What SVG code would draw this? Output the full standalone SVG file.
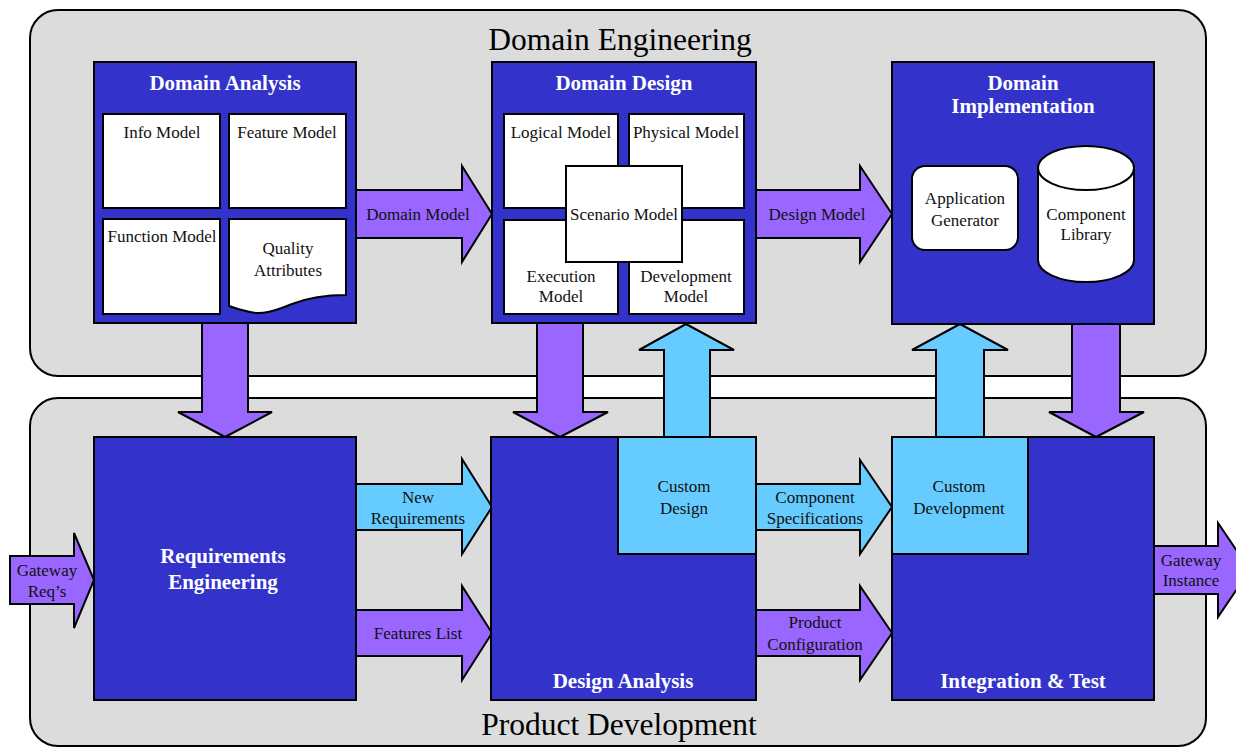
<svg xmlns="http://www.w3.org/2000/svg" width="1236" height="749" viewBox="0 0 1236 749">
  <style>
    .zone { fill: #DCDCDC; stroke: #000; stroke-width: 2; }
    .box { fill: #3333CC; stroke: #000; stroke-width: 2; }
    .card { fill: #FFFFFF; stroke: #000; stroke-width: 2; }
    .custom { fill: #66CCFF; stroke: #000; stroke-width: 2; }
    .arrow-p { fill: #9966FF; stroke: #000; stroke-width: 2; stroke-linejoin: miter; }
    .arrow-b { fill: #66CCFF; stroke: #000; stroke-width: 2; stroke-linejoin: miter; }
    text { font-family: "Liberation Serif", "Times New Roman", serif; text-anchor: middle; }
    .zone-title { font-size: 31.5px; fill: #000; }
    .title { font-size: 21px; font-weight: bold; fill: #FFFFFF; }
    .label { font-size: 17px; fill: #111; }
  </style>

  <rect width="1236" height="749" fill="#FFFFFF"/>

  <!-- swim-lane containers -->
  <g id="domain-engineering">
    <rect class="zone" x="30" y="10" width="1176" height="366" rx="28" ry="28"/>
    <text class="zone-title" x="620" y="50">Domain Engineering</text>
  </g>
  <g id="product-development">
    <rect class="zone" x="30" y="398" width="1176" height="348" rx="28" ry="28"/>
    <text class="zone-title" x="619" y="735">Product Development</text>
  </g>

  <!-- connectors -->
  <g id="connectors">
    <!-- vertical flows between the lanes -->
    <path class="arrow-p" d="M202,323 H248 V412 H272 L225,437 L178,412 H202 Z"/>
    <path class="arrow-p" d="M537,323 H583 V412 H608 L560,437 L513,412 H537 Z"/>
    <path class="arrow-p" d="M1072,324 H1120 V412 H1144 L1096,437 L1049,412 H1072 Z"/>
    <path class="arrow-b" d="M664,437 V350 H639 L686,324 L734,350 H710 V437 Z"/>
    <path class="arrow-b" d="M936,437 V350 H912 L960,324 L1008,350 H984 V437 Z"/>

    <!-- horizontal flows -->
    <g id="domain-model-flow">
      <path class="arrow-p" d="M356,190 H462 V166 L492,214 L462,262 V238 H356 Z"/>
      <text class="label" x="418" y="220">Domain Model</text>
    </g>
    <g id="design-model-flow">
      <path class="arrow-p" d="M756,190 H860 V166 L892,214 L860,262 V238 H756 Z"/>
      <text class="label" x="817" y="220">Design Model</text>
    </g>
    <g id="new-requirements-flow">
      <path class="arrow-b" d="M356,484 H462 V459 L492,507 L462,554 V530 H356 Z"/>
      <text class="label" x="418" y="503">New</text>
      <text class="label" x="418" y="524">Requirements</text>
    </g>
    <g id="features-list-flow">
      <path class="arrow-p" d="M356,610 H462 V586 L492,633 L462,680 V656 H356 Z"/>
      <text class="label" x="418" y="639">Features List</text>
    </g>
    <g id="component-spec-flow">
      <path class="arrow-b" d="M756,484 H860 V460 L892,507 L860,554 V530 H756 Z"/>
      <text class="label" x="815" y="503">Component</text>
      <text class="label" x="815" y="524">Specifications</text>
    </g>
    <g id="product-config-flow">
      <path class="arrow-p" d="M756,610 H860 V586 L892,633 L860,680 V656 H756 Z"/>
      <text class="label" x="815" y="628">Product</text>
      <text class="label" x="815" y="650">Configuration</text>
    </g>
    <g id="gateway-reqs-flow">
      <path class="arrow-p" d="M10,556 H74 V533 L94,580 L74,628 V604 H10 Z"/>
      <text class="label" x="47" y="576">Gateway</text>
      <text class="label" x="47" y="597">Req’s</text>
    </g>
    <g id="gateway-instance-flow">
      <path class="arrow-p" d="M1154,546 H1218 V523 L1250,570 L1218,617 V594 H1154 Z"/>
      <text class="label" x="1191" y="566">Gateway</text>
      <text class="label" x="1191" y="586">Instance</text>
    </g>
  </g>

  <!-- Domain Analysis -->
  <g id="domain-analysis">
    <rect class="box" x="94" y="62" width="262" height="261"/>
    <text class="title" x="225" y="90">Domain Analysis</text>
    <rect class="card" x="103" y="114" width="117" height="94"/>
    <text class="label" x="162" y="138">Info Model</text>
    <rect class="card" x="229" y="114" width="117" height="94"/>
    <text class="label" x="287" y="138">Feature Model</text>
    <rect class="card" x="103" y="219" width="117" height="95"/>
    <text class="label" x="162" y="242">Function Model</text>
    <path class="card" d="M229,219 H346 V295 C326,295 310,297 292,304 C275,311 262,315 250,312 C240,310 234,308 229,306 Z"/>
    <text class="label" x="288" y="254">Quality</text>
    <text class="label" x="288" y="276">Attributes</text>
  </g>

  <!-- Domain Design -->
  <g id="domain-design">
    <rect class="box" x="492" y="62" width="264" height="261"/>
    <text class="title" x="624" y="90">Domain Design</text>
    <rect class="card" x="504" y="114" width="114" height="94"/>
    <text class="label" x="561" y="138">Logical Model</text>
    <rect class="card" x="629" y="114" width="115" height="94"/>
    <text class="label" x="686" y="138">Physical Model</text>
    <rect class="card" x="504" y="220" width="114" height="94"/>
    <text class="label" x="561" y="282">Execution</text>
    <text class="label" x="561" y="302">Model</text>
    <rect class="card" x="629" y="220" width="115" height="94"/>
    <text class="label" x="686" y="282">Development</text>
    <text class="label" x="686" y="302">Model</text>
    <rect class="card" x="566" y="166" width="116" height="96"/>
    <text class="label" x="624" y="220">Scenario Model</text>
  </g>

  <!-- Domain Implementation -->
  <g id="domain-implementation">
    <rect class="box" x="892" y="62" width="262" height="262"/>
    <text class="title" x="1023" y="90">Domain</text>
    <text class="title" x="1023" y="113">Implementation</text>
    <rect class="card" x="912" y="166" width="106" height="84" rx="13" ry="13"/>
    <text class="label" x="965" y="204">Application</text>
    <text class="label" x="965" y="226">Generator</text>
    <path class="card" d="M1038,168 A48,22 0 0 1 1134,168 V260 A48,22 0 0 1 1038,260 Z"/>
    <path d="M1038,168 A48,22 0 0 0 1134,168" fill="none" stroke="#000" stroke-width="2"/>
    <text class="label" x="1086" y="220">Component</text>
    <text class="label" x="1086" y="240">Library</text>
  </g>

  <!-- Requirements Engineering -->
  <g id="requirements-engineering">
    <rect class="box" x="94" y="437" width="262" height="263"/>
    <text class="title" x="223" y="563">Requirements</text>
    <text class="title" x="223" y="589">Engineering</text>
  </g>

  <!-- Design Analysis -->
  <g id="design-analysis">
    <rect class="box" x="491" y="437" width="265" height="263"/>
    <text class="title" x="623" y="688">Design Analysis</text>
    <rect class="custom" x="618" y="437" width="138" height="117"/>
    <text class="label" x="684" y="492">Custom</text>
    <text class="label" x="684" y="514">Design</text>
  </g>

  <!-- Integration & Test -->
  <g id="integration-test">
    <rect class="box" x="892" y="437" width="262" height="263"/>
    <text class="title" x="1023" y="688">Integration &amp; Test</text>
    <rect class="custom" x="892" y="437" width="136" height="117"/>
    <text class="label" x="959" y="492">Custom</text>
    <text class="label" x="959" y="514">Development</text>
  </g>
</svg>
